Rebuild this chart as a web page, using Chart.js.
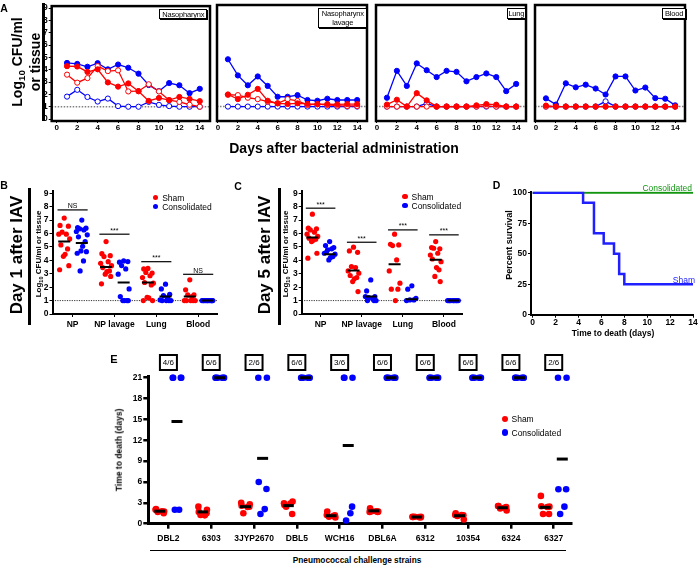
<!DOCTYPE html>
<html>
<head>
<meta charset="utf-8">
<script src="https://cdn.jsdelivr.net/npm/chart.js@4.4.1/dist/chart.umd.min.js"></script>
<style>
  body { margin: 0; background: #fff; }
  #fig { position: relative; width: 700px; height: 566px; overflow: hidden; font-family: 'Liberation Sans', Arial, sans-serif; color: #000; }
  canvas { position: absolute; }
  .t { position: absolute; white-space: nowrap; line-height: 1; }
  .t sub { font-size: 0.7em; vertical-align: -0.3em; line-height: 0; }
  .bar { position: absolute; background: #000; }
  .tag { position: absolute; box-sizing: border-box; border: 1px solid #000; box-shadow: 1px 1px 0 #000; background: #fff; font-size: 7.5px; letter-spacing: -0.2px; line-height: 9px; text-align: center; white-space: nowrap; }
  .dot { position: absolute; border-radius: 50%; }
</style>
</head>
<body>
<div id="fig"></div>
<script>
// ---- data ----
const days = [1, 2, 3, 4, 5, 6, 7, 8, 9, 10, 11, 12, 13, 14];
const dayTicks = [0, 2, 4, 6, 8, 10, 12, 14];
const cfuTicks = [0, 1, 2, 3, 4, 5, 6, 7, 8, 9];

// Panel A, log10 CFU per day
const nasoRedSolid = [4.29, 4.26, 3.82, 4.03, 2.97, 2.63, 2.89, 2.26, 1.47, 1.71, 1.53, 1.79, 1.63, 1.45];
const nasoBlueSolid = [4.55, 4.47, 4.24, 4.53, 4.03, 4.42, 4.16, 3.68, 2.76, 2.26, 2.92, 2.74, 2.1, 2.45];
const nasoRedOpen = [3.6, 2.95, 3.32, 4.29, 3.89, 3.95, 2.24, 2.26, 2.82, 2.24, 1.53, 1.39, 1.16, 1.0];
const nasoBlueOpen = [1.82, 2.37, 1.79, 1.42, 1.66, 1.05, 1.0, 1.0, 1.39, 1.15, 1.05, 1.0, 1.0, 1.0];
const lavRedSolid = [1.97, 1.6, 1.95, 2.42, 1.47, 1.26, 1.21, 1.26, 1.21, 1.18, 1.2, 1.18, 1.2, 1.2];
const lavBlueSolid = [4.8, 3.5, 2.71, 3.42, 2.66, 1.79, 1.79, 1.92, 1.53, 1.47, 1.63, 1.53, 1.53, 1.53];
const lavRedOpen = [1.95, 1.92, 1.71, 1.6, 1.39, 1.26, 1.6, 1.45, 1.13, 1.2, 1.13, 1.08, 1.05, 1.05];
const lavBlueOpen = [1, 1, 1, 1, 1, 1, 1, 1, 1, 1, 1, 1, 1, 1];
const lungRedSolid = [1.16, 1.55, 1, 2.08, 1.5, 1, 1, 1, 1, 1.1, 1.2, 1.15, 1, 1];
const lungBlueSolid = [1.71, 3.87, 2.66, 4.47, 3.92, 3.37, 3.87, 3.79, 3.03, 3.37, 3.66, 3.37, 2.24, 2.82];
const lungRedOpen = [1, 1, 1, 1, 1, 1, 1, 1, 1, 1, 1.05, 1, 1, 1];
const lungBlueOpen = [1, 1, 1, 1, 1.25, 1, 1, 1, 1, 1, 1, 1, 1, 1];
const bloodRedSolid = [1.08, 1, 1, 1, 1, 1, 1, 1, 1, 1, 1, 1, 1, 1];
const bloodBlueSolid = [1.66, 1.16, 2.87, 2.55, 2.76, 2.45, 1.97, 3.42, 3.42, 2.29, 2.53, 1.68, 1.63, 1.1];
const bloodRedOpen = [1, 1, 1, 1, 1, 1, 1, 1, 1, 1, 1, 1, 1, 1];
const bloodBlueOpen = [1, 1, 1, 1, 1, 1, 1.42, 1, 1, 1, 1, 1, 1, 1];

// Panels B and C
const sites = ['NP', 'NP lavage', 'Lung', 'Blood'];
const day1Sham = [
  [7.15, 6.6, 6.55, 6.1, 5.95, 5.95, 5.6, 5.15, 4.85, 4.45, 4.3, 3.6, 3.3],
  [5.4, 4.5, 4.35, 4.28, 3.9, 3.78, 3.6, 3.46, 3.21, 3.16, 2.97, 2.8, 2.25],
  [3.4, 3.36, 3.05, 3.1, 2.85, 2.72, 2.3, 2.35, 2.17, 1.2, 1.25, 1, 1],
  [2.55, 1.8, 1.42, 1.42, 1.3, 1, 1, 1, 1, 1]
];
const day1Cons = [
  [7.0, 6.45, 6.4, 6.35, 6.27, 6.15, 5.9, 5.75, 5.4, 5.05, 4.7, 4.65, 4.53, 3.96, 3.21],
  [3.96, 3.86, 3.91, 3.61, 3.36, 2.97, 1.87, 1.3, 1, 1, 1, 1],
  [2.22, 1.87, 1.47, 1.37, 1.22, 1.05, 1, 1, 1, 1],
  [1, 1, 1, 1, 1, 1, 1, 1, 1, 1, 1, 1]
];
const day1ShamMean = [5.4, 3.5, 2.35, 1.3];
const day1ConsMean = [5.3, 2.35, 1.3, 1.0];
const day1Sig = ['NS', '***', '***', 'NS'];
const day1SigLevel = [7.76, 5.95, 3.9, 2.96];

const day5Sham = [
  [7.44, 6.4, 6.35, 6.27, 6.1, 5.95, 5.78, 5.65, 5.58, 5.5, 5.4, 4.53, 4.16],
  [4.98, 4.7, 4.6, 3.54, 3.46, 3.21, 3.04, 2.87, 2.72, 2.62, 2.42, 1.67],
  [5.95, 5.2, 5.15, 5.1, 4.03, 3.21, 2.3, 1.85, 1.85, 1.0],
  [5.4, 4.95, 4.86, 4.9, 4.53, 4.4, 3.9, 4.1, 3.29, 3.46, 2.8, 2.42]
];
const day5Cons = [
  [5.4, 5.1, 4.95, 4.78, 4.86, 4.53, 4.46, 4.6, 4.28, 4.21, 4.03],
  [2.54, 1.72, 1.3, 1.22, 1.12, 1.3, 1, 1, 1],
  [2.1, 1.85, 1.17, 1.05, 1.05, 1],
  [1, 1, 1, 1, 1, 1, 1, 1, 1, 1]
];
const day5ShamMean = [5.7, 3.25, 3.7, 4.05];
const day5ConsMean = [4.45, 1.3, 1.1, 1.0];
const day5Sig = ['***', '***', '***', '***'];
const day5SigLevel = [7.89, 5.35, 6.27, 5.9];

// Panel D, survival
const shamDays = [0, 4.4, 5.35, 6.2, 7.1, 7.55, 8.0, 14];
const shamSurvival = [100, 91.7, 66.7, 58.3, 50, 33.3, 25, 25];
const consDays = [0, 14];
const consSurvival = [100, 100];

// Panel E, time to death
const strains = ['DBL2', '6303', '3JYP2670', 'DBL5', 'WCH16', 'DBL6A', '6312', '10354', '6324', '6327'];
const survivors = ['4/6', '6/6', '2/6', '6/6', '3/6', '6/6', '6/6', '6/6', '6/6', '2/6'];
const deathSham = [
  [2.0, 1.75, 2.1, 1.5, 1.7, 1.8],
  [2.45, 2.0, 1.7, 1.5, 1.25, 1.2],
  [3.0, 2.8, 2.6, 2.45, 1.5, 2.4],
  [2.95, 3.2, 2.7, 1.4, 2.45, 2.9],
  [1.25, 0.9, 1.75, 1.2, 1.0, 1.1],
  [1.7, 1.75, 2.2, 1.7, 1.8, 1.8],
  [1.0, 1.0, 0.95, 0.9, 1.0, 0.95],
  [1.25, 0.6, 1.5, 1.2, 1.1, 1.25],
  [2.55, 1.9, 2.55, 2.4, 2.2, 2.3],
  [4.0, 2.45, 2.5, 1.4, 1.4, 2.4]
];
const deathCons = [
  [21, 21, 21, 21, 2, 2],
  [21, 21, 21, 21, 21, 21],
  [21, 21, 6, 5, 1.4, 2.1],
  [21, 21, 21, 21, 21, 21],
  [21, 21, 21, 2.45, 0.45, 1.5],
  [21, 21, 21, 21, 21, 21],
  [21, 21, 21, 21, 21, 21],
  [21, 21, 21, 21, 21, 21],
  [21, 21, 21, 21, 21, 21],
  [21, 21, 4.95, 4.95, 1.4, 2.45]
];
const deathShamMean = [1.8, 1.7, 2.45, 2.6, 1.15, 1.85, 0.96, 1.15, 2.3, 2.35];
const deathConsMean = [14.7, 21, 9.4, 21, 11.25, 21, 21, 21, 21, 9.3];

// ---- styling ----
const RED = '#ff0000';
const BLUE = '#0000ff';
const FONT = "'Liberation Sans', Arial, sans-serif";
const jitterB = [0, -0.1, 0.1, -0.05, 0.05, -0.13, 0.13, -0.08, 0.08, 0.02, -0.02, 0.11, -0.11, 0.04, -0.04];
const jitterE = [-0.1, 0.1, -0.09, 0.09, -0.05, 0.05];

Chart.defaults.font.family = FONT;
Chart.defaults.color = '#000';
Chart.defaults.animation = false;
Chart.defaults.plugins.legend.display = false;
Chart.defaults.plugins.tooltip.enabled = false;

const fig = document.getElementById('fig');

function place(left, top, w, h) {
  const c = document.createElement('canvas');
  c.width = w; c.height = h;
  c.style.left = left + 'px'; c.style.top = top + 'px';
  fig.appendChild(c);
  return c;
}

function addText(html, x, y, css, transform) {
  const d = document.createElement('div');
  d.className = 't';
  d.innerHTML = html;
  d.style.left = x + 'px';
  d.style.top = y + 'px';
  d.style.transform = transform || 'translate(-50%,-50%)';
  Object.assign(d.style, css || {});
  fig.appendChild(d);
  return d;
}

function addBox(cls, left, top, w, h, css) {
  const d = document.createElement('div');
  d.className = cls;
  Object.assign(d.style, { left: left + 'px', top: top + 'px', width: w + 'px', height: h + 'px' }, css || {});
  fig.appendChild(d);
  return d;
}

const setTicks = vals => scale => { scale.ticks = vals.map(v => ({ value: v })); };
const tickGrid = (len, w) => ({ drawOnChartArea: false, drawTicks: true, tickLength: len, color: '#000', lineWidth: w });
const bold = size => ({ size: size, weight: 'bold' });

// frame, reference line, significance bars, survivor boxes
function extras(o) {
  return {
    id: 'extras',
    beforeDatasetsDraw(chart) {
      const { ctx, chartArea: a, scales: { y } } = chart;
      if (o.refLine === undefined) return;
      const py = y.getPixelForValue(o.refLine);
      ctx.save();
      ctx.strokeStyle = o.refColor;
      ctx.lineWidth = o.refWidth;
      ctx.setLineDash(o.refDash);
      ctx.beginPath();
      ctx.moveTo(a.left, py);
      ctx.lineTo(a.right, py);
      ctx.stroke();
      ctx.restore();
    },
    afterDatasetsDraw(chart) {
      const { ctx, chartArea: a, scales: { x, y } } = chart;
      ctx.save();
      ctx.strokeStyle = '#000';
      ctx.fillStyle = '#000';
      if (o.frame) {
        ctx.lineWidth = o.frame;
        ctx.strokeRect(a.left, a.top, a.right - a.left, a.bottom - a.top);
      }
      if (o.sigText) {
        ctx.lineWidth = 1.2;
        ctx.font = '7px ' + FONT;
        ctx.textAlign = 'center';
        ctx.textBaseline = 'alphabetic';
        o.sigText.forEach((t, i) => {
          const py = y.getPixelForValue(o.sigLevel[i]);
          const x0 = x.getPixelForValue(i - 0.36), x1 = x.getPixelForValue(i + 0.36);
          ctx.beginPath();
          ctx.moveTo(x0, py);
          ctx.lineTo(x1, py);
          ctx.stroke();
          ctx.fillText(t, (x0 + x1) / 2, py - 1.5);
        });
      }
      if (o.boxText) {
        ctx.lineWidth = 2;
        ctx.font = '8px ' + FONT;
        ctx.textAlign = 'center';
        ctx.textBaseline = 'middle';
        o.boxText.forEach((t, i) => {
          const cx = x.getPixelForValue(i), cy = a.top - 13.5;
          ctx.strokeRect(cx - 8.5, cy - 7.5, 17, 15);
          ctx.fillText(t, cx, cy + 0.5);
        });
      }
      ctx.restore();
    }
  };
}

// ---- panel A ----
function lineSeries(values, color, open) {
  return {
    data: values.map((v, i) => ({ x: days[i], y: v })),
    showLine: true,
    borderColor: color,
    borderWidth: 1.3,
    pointRadius: 2.6,
    pointBorderWidth: 1,
    pointBorderColor: color,
    pointBackgroundColor: open ? '#fff' : color
  };
}

function chartA(left, width, sets, first, xMin, xMax, padL, padR) {
  new Chart(place(left, 0, width, 135), {
    type: 'scatter',
    data: {
      datasets: [
        lineSeries(sets[0], RED, false),
        lineSeries(sets[2], RED, true),
        lineSeries(sets[1], BLUE, false),
        lineSeries(sets[3], BLUE, true)
      ]
    },
    options: {
      responsive: false,
      layout: { padding: { top: 3, left: padL, right: padR, bottom: 0 } },
      scales: {
        x: {
          min: xMin, max: xMax,
          afterBuildTicks: setTicks(dayTicks),
          afterFit: s => { s.height = 14; },
          ticks: { font: bold(8), padding: 0, maxRotation: 0, autoSkip: false },
          grid: tickGrid(2, 1),
          border: { display: false }
        },
        y: {
          display: first,
          min: -0.158, max: 9.158,
          afterBuildTicks: setTicks(cfuTicks),
          afterFit: s => { s.width = first ? 51.7 : 0; },
          ticks: { font: bold(8.5), padding: 1, autoSkip: false },
          grid: tickGrid(3, 1),
          border: { display: false }
        }
      }
    },
    plugins: [extras({ frame: 2.5, refLine: 1, refColor: '#808080', refWidth: 1.5, refDash: [1.5, 1.5] })]
  });
}

chartA(0, 215, [nasoRedSolid, nasoBlueSolid, nasoRedOpen, nasoBlueOpen], true, -0.5, 15, 0, 4.6);
chartA(212, 160, [lavRedSolid, lavBlueSolid, lavRedOpen, lavBlueOpen], false, -0.1, 14.99, 3, 2.5);
chartA(371, 160, [lungRedSolid, lungBlueSolid, lungRedOpen, lungBlueOpen], false, -0.1, 14.99, 3, 2.5);
chartA(530, 160, [bloodRedSolid, bloodBlueSolid, bloodRedOpen, bloodBlueOpen], false, -0.1, 14.99, 3, 2.5);

// ---- panels B and C ----
function groupPoints(groups, shift, jit) {
  const pts = [];
  groups.forEach((vals, i) => vals.forEach((v, j) => pts.push({ x: i + shift + jit[j % jit.length], y: v })));
  return pts;
}

function chartBC(left, yWidth, padR, xMin, xMax, sham, cons, shamMean, consMean, sig, sigLevel) {
  new Chart(place(left, 180, 225, 150), {
    type: 'scatter',
    data: {
      datasets: [
        {
          data: shamMean.map((m, i) => ({ x: i - 0.2, y: m }))
            .concat(consMean.map((m, i) => ({ x: i + 0.22, y: m }))),
          pointStyle: 'line', pointRadius: 6, borderColor: '#000', pointBorderColor: '#000',
          borderWidth: 2, pointBorderWidth: 2
        },
        { data: groupPoints(sham, -0.2, jitterB), pointRadius: 2.6, pointBorderWidth: 0, pointBackgroundColor: RED, backgroundColor: RED },
        { data: groupPoints(cons, 0.22, jitterB), pointRadius: 2.6, pointBorderWidth: 0, pointBackgroundColor: BLUE, backgroundColor: BLUE }
      ]
    },
    options: {
      responsive: false,
      layout: { padding: { top: 11, right: padR, left: 0, bottom: 0 } },
      scales: {
        x: {
          min: xMin, max: xMax,
          afterBuildTicks: setTicks([0, 1, 2, 3]),
          afterFit: s => { s.height = 16; },
          ticks: { callback: v => sites[v], font: bold(8.5), padding: 3, maxRotation: 0, autoSkip: false },
          grid: tickGrid(3, 1),
          border: { display: true, width: 2, color: '#000' }
        },
        y: {
          min: 0, max: 9.17,
          afterBuildTicks: setTicks(cfuTicks),
          afterFit: s => { s.width = yWidth; },
          ticks: { font: bold(8.5), padding: 1, autoSkip: false },
          grid: tickGrid(3, 1),
          border: { display: true, width: 2, color: '#000' }
        }
      }
    },
    plugins: [extras({ refLine: 1, refColor: '#000', refWidth: 0.8, refDash: [1.2, 1.2], sigText: sig, sigLevel: sigLevel })]
  });
}

chartBC(0, 52.5, 8, -0.48, 3.45, day1Sham, day1Cons, day1ShamMean, day1ConsMean, day1Sig, day1SigLevel);
chartBC(245, 56.7, 5, -0.46, 3.44, day5Sham, day5Cons, day5ShamMean, day5ConsMean, day5Sig, day5SigLevel);

// ---- panel D ----
new Chart(place(470, 180, 230, 165), {
  type: 'scatter',
  data: {
    datasets: [
      { data: shamDays.map((d, i) => ({ x: d, y: shamSurvival[i] })), showLine: true, stepped: true, borderColor: '#1f1fff', borderWidth: 2.5, pointRadius: 0 },
      { data: consDays.map((d, i) => ({ x: d, y: consSurvival[i] })), showLine: true, borderColor: '#129612', borderWidth: 2, pointRadius: 0 }
    ]
  },
  options: {
    responsive: false,
    layout: { padding: { top: 11.5, right: 7, left: 0, bottom: 0 } },
    scales: {
      x: {
        min: -0.15, max: 14,
        afterBuildTicks: setTicks(dayTicks),
        afterFit: s => { s.height = 30.3; },
        ticks: { font: bold(8.5), padding: 0, maxRotation: 0, autoSkip: false },
        grid: tickGrid(3, 1),
        border: { display: true, width: 2, color: '#000' }
      },
      y: {
        min: 0, max: 101,
        afterBuildTicks: setTicks([0, 25, 50, 75, 100]),
        afterFit: s => { s.width = 61; },
        ticks: { font: bold(8.5), padding: 1, autoSkip: false },
        grid: tickGrid(3, 1),
        border: { display: true, width: 2, color: '#000' }
      }
    }
  }
});

// ---- panel E ----
new Chart(place(90, 345, 500, 200), {
  type: 'scatter',
  data: {
    datasets: [
      {
        data: deathShamMean.map((m, i) => ({ x: i - 0.2, y: m }))
          .concat(deathConsMean.map((m, i) => ({ x: i + 0.2, y: m }))),
        pointStyle: 'line', pointRadius: 5.5, borderColor: '#000', pointBorderColor: '#000',
        borderWidth: 3, pointBorderWidth: 3, clip: false
      },
      { data: groupPoints(deathSham, -0.2, jitterE), pointRadius: 3.3, pointBorderWidth: 0, pointBackgroundColor: RED, backgroundColor: RED, clip: false },
      { data: groupPoints(deathCons, 0.2, jitterE), pointRadius: 3.3, pointBorderWidth: 0, pointBackgroundColor: BLUE, backgroundColor: BLUE, clip: false }
    ]
  },
  options: {
    responsive: false,
    layout: { padding: { top: 31, right: 18.3, left: 0, bottom: 0 } },
    scales: {
      x: {
        min: -0.47, max: 9.42,
        afterBuildTicks: setTicks([0, 1, 2, 3, 4, 5, 6, 7, 8, 9]),
        afterFit: s => { s.height = 21.3; },
        ticks: { callback: v => strains[v], font: bold(8.5), padding: 5, maxRotation: 0, autoSkip: false },
        grid: tickGrid(5, 2.5),
        border: { display: true, width: 3, color: '#000' }
      },
      y: {
        min: 0, max: 21.25,
        afterBuildTicks: setTicks([0, 3, 6, 9, 12, 15, 18, 21]),
        afterFit: s => { s.width = 58.3; },
        ticks: { font: bold(8.5), padding: 1, autoSkip: false },
        grid: tickGrid(5, 2.5),
        border: { display: true, width: 3, color: '#000' }
      }
    }
  },
  plugins: [extras({ boxText: survivors })]
});

// ---- text and decorations ----
const rot = 'translate(-50%,-50%) rotate(-90deg)';
const lbl = { fontWeight: 'bold', fontSize: '10.5px' };
addText('A', 4, 8, lbl);
addText('B', 4, 185, lbl);
addText('C', 238, 186, lbl);
addText('D', 496.5, 185, lbl);
addText('E', 114, 358.5, Object.assign({}, lbl, { fontSize: '11px' }));

addText('Log<sub>10</sub> CFU/ml<br>or tissue', 26, 62, { fontWeight: 'bold', fontSize: '14px', lineHeight: '18px', textAlign: 'center' }, rot);
addBox('bar', 41.5, 3, 3.5, 118);
addText('Days after bacterial administration', 344, 148, { fontWeight: 'bold', fontSize: '14px' });

const tags = [
  ['Nasopharynx', 159.3, 9.3, 48, 10],
  ['Nasopharynx<br>lavage', 318.3, 8.3, 49, 20],
  ['Lung', 506.7, 8.3, 19.3, 11],
  ['Blood', 662.3, 8.3, 23.7, 11]
];
tags.forEach(t => { addBox('tag', t[1], t[2], t[3], t[4]).innerHTML = t[0]; });

const dayTitle = { fontWeight: 'bold', fontSize: '17px' };
addText('Day 1 after IAV', 15.5, 255, dayTitle, rot);
addText('Day 5 after IAV', 264, 255, dayTitle, rot);
addBox('bar', 27.5, 188, 3.5, 137);
addBox('bar', 277.5, 188, 3.5, 137);
const cfuTitle = { fontWeight: 'bold', fontSize: '8px' };
addText('Log<sub>10</sub> CFU/ml or tissue', 38.5, 254, cfuTitle, rot);
addText('Log<sub>10</sub> CFU/ml or tissue', 285.5, 254, cfuTitle, rot);

function legend(x, y, size, r) {
  addBox('dot', x - r, y - r, 2 * r, 2 * r, { background: RED });
  addBox('dot', x - r, y + size - r, 2 * r, 2 * r, { background: BLUE });
  addText('Sham', x + 6.5, y, { fontSize: '8.5px' }, 'translate(0,-50%)');
  addText('Consolidated', x + 6.5, y + size, { fontSize: '8.5px' }, 'translate(0,-50%)');
}
legend(155.7, 197.7, 9, 2.6);
legend(405, 196.7, 9, 2.6);
legend(505, 419, 13.7, 3.3);

addText('Percent survival', 509, 245, { fontWeight: 'bold', fontSize: '9px' }, rot);
addText('Time to death (days)', 613, 333.3, { fontWeight: 'bold', fontSize: '8.5px' });
addText('Consolidated', 692, 188, { fontSize: '8.5px', color: '#129612' }, 'translate(-100%,-50%)');
addText('Sham', 695, 280, { fontSize: '8.5px', color: '#1f1fff' }, 'translate(-100%,-50%)');

addText('Time to death (days)', 118.8, 450, { fontWeight: 'bold', fontSize: '8.5px' }, rot);
addBox('bar', 150, 550, 416, 1.2);
addText('Pneumococcal challenge strains', 357, 560, { fontWeight: 'bold', fontSize: '8.3px' });
</script>
</body>
</html>
